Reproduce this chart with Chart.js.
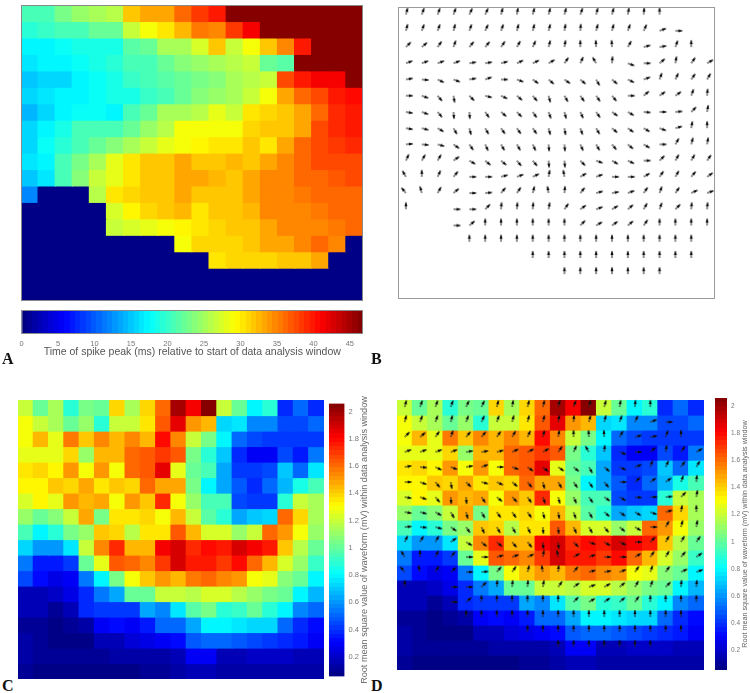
<!DOCTYPE html>
<html><head><meta charset="utf-8">
<style>
html,body{margin:0;padding:0;background:#fff;width:750px;height:693px;overflow:hidden}
canvas{position:absolute;display:block;filter:blur(0.45px)}
.tag{position:absolute;font:bold 16px "Liberation Serif",serif;color:#111;line-height:16px}
.vt{position:absolute;font-family:"Liberation Sans",sans-serif;color:#666;white-space:nowrap;transform-origin:center center;filter:blur(0.3px)}
</style>
<script src="https://cdn.jsdelivr.net/npm/chart.js@4/dist/chart.umd.min.js"></script>
</head><body>
<canvas id="a" style="left:21px;top:5px" width="342" height="296"></canvas>
<canvas id="aBar" style="left:10px;top:308px" width="365" height="50"></canvas>
<canvas id="b" style="left:393px;top:2px" width="327" height="302"></canvas>
<canvas id="c" style="left:18px;top:400px" width="306" height="279"></canvas>
<canvas id="cBar" style="left:329px;top:395px" width="32" height="290"></canvas>
<canvas id="d" style="left:392px;top:395px" width="317" height="280"></canvas>
<canvas id="dBar" style="left:715px;top:390px" width="28" height="290"></canvas>
<div class="tag" style="left:2px;top:351px">A</div>
<div class="tag" style="left:371px;top:351px">B</div>
<div class="tag" style="left:2px;top:678px">C</div>
<div class="tag" style="left:371px;top:678px">D</div>
<div class="vt" style="left:214px;top:534px;width:300px;text-align:center;font-size:9.1px;line-height:12px;transform:rotate(-90deg)">Root mean square value of waveform (mV) within data analysis window</div>
<div class="vt" style="left:595px;top:529px;width:300px;text-align:center;font-size:7.2px;line-height:10px;transform:rotate(-90deg)">Root mean square value of waveform (mV) within data analysis window</div>
<script>
const columnLabels=['1','2','3','4','5','6','7','8','9','10','11','12','13','14','15','16','17','18','19','20'];
const spikeRange=[0,46.8];
const spikeTicks=[0,5,10,15,20,25,30,35,40,45];
const rmsRange=[0.056,2.06];
const rmsTicks=[0.2,0.4,0.6,0.8,1,1.2,1.4,1.6,1.8,2];
const spikeTitle='Time of spike peak (ms) relative to start of data analysis window';

const spikeTimes=[
[21,21,23,24.5,25.5,26,31.5,33.5,33.5,36,38.5,39.5,47,47,47,47,47,47,47,47],
[19.5,20,20.5,21,22,22.5,27,29,30,32.5,35.5,35,38.5,41,47,47,47,47,47,47],
[17,17.5,18,18.5,19,19,21.5,22,25.5,25.5,27.5,32,27,29,32,34.5,40,47,47,47],
[16.5,17,17.5,18,18.5,19.5,20.5,21,22,24,24.5,25.5,26,26.5,22.5,21.5,47,47,47,47],
[15,15.5,16,17.5,18,19,20,20.5,21.5,22,23,24,25.5,26,27,38,39.5,41,41,47],
[16,16.5,17,17.5,18,18.5,19,20,21,22.5,24,24.5,25.5,27,29,33,36,38,39.5,40.5],
[14.5,15.5,17.5,18,18,17.5,20.5,22,25,25.5,26,28,26.5,30.5,31,31.5,33,36.5,39,40],
[15.5,17.5,18.5,20.5,20.5,21,22.5,24.5,26,29,29,29,29,31,31.5,32,33.5,37.5,39,39.5],
[15.5,18,19.5,21,22.5,24,25,27,28.5,29,29.5,30.5,30.5,31.5,30,33,36,37.5,38.5,39],
[16.5,17.5,20.5,23,25.5,28.5,30,31.5,32,33,32,31.5,32.5,32,33,35,36.5,37.5,37.5,38],
[15,16.5,21,23.5,26.5,28.5,30.5,31.5,32,33,33,32.5,32,33,34.5,35,36,36.5,37,37.5],
[12,0,0,0,26,30,31,31.5,32,33,31.5,32,32,33,35,35,35.5,36,36.5,36.5],
[0,0,0,0,0,27.5,29.5,31,31.5,32.5,30,32,32,32.5,35,35,35,35.5,36,36.5],
[0,0,0,0,0,27,27.5,28,29,29.5,30,31,32,32,33,35,35,35,35.5,36],
[0,0,0,0,0,0,0,0,0,29,31,31,31,32,33,33.5,34.5,36,34.5,0],
[0,0,0,0,0,0,0,0,0,0,0,30,31,31,31,31.5,32,33,0,0],
[0,0,0,0,0,0,0,0,0,0,0,0,0,0,0,0,0,0,0,0],
[0,0,0,0,0,0,0,0,0,0,0,0,0,0,0,0,0,0,0,0]
];
const rmsValues=[
[1.2,1.0,1.15,.9,1.05,1.0,1.4,1.15,1.4,1.6,1.98,1.82,2.05,1.2,1.0,.8,.9,.38,.5,.4],
[1.28,1.2,1.15,1.0,1.1,.9,1.2,1.2,1.35,1.65,1.85,1.5,1.45,.72,.75,.58,.58,.45,.45,.52],
[1.3,1.45,1.25,1.58,1.42,1.55,1.45,1.55,1.45,1.8,1.55,1.2,1.05,.78,.5,.45,.42,.42,.42,.42],
[1.25,1.25,1.25,1.38,1.1,1.45,1.45,1.6,1.65,1.7,1.65,1.05,.9,.7,.38,.3,.3,.45,.35,.55],
[1.35,1.38,1.32,1.5,1.3,1.52,1.3,1.6,1.65,1.85,1.25,1.0,.95,.62,.42,.42,.45,.7,.5,.75],
[1.32,1.32,1.42,1.38,1.48,1.35,1.42,1.4,1.62,1.48,1.48,1.05,.8,.65,.48,.4,.5,.68,.85,.95],
[1.22,1.32,1.25,1.5,1.45,1.48,1.3,1.5,1.42,1.72,1.3,1.1,.95,.95,.45,.42,.42,.9,1.2,1.15],
[1.12,1.0,1.08,1.2,1.48,1.05,1.35,1.35,1.38,1.3,1.45,1.2,.98,.88,.62,.7,.72,1.62,1.38,1.15],
[.95,.78,.9,1.05,1.12,1.42,1.38,1.18,1.35,1.35,1.65,1.45,1.22,1.22,1.1,1.2,1.6,1.5,1.3,1.1],
[.72,.6,.6,.75,1.2,1.55,1.72,1.45,1.45,1.82,1.88,1.72,1.78,1.75,1.9,1.82,1.75,1.42,1.18,1.02],
[.55,.35,.35,.42,1.0,1.25,1.65,1.62,1.55,1.7,1.9,1.75,1.75,1.7,1.8,1.6,1.45,1.22,1.1,.92],
[.45,.32,.25,.28,.55,.78,1.05,1.3,1.42,1.52,1.45,1.58,1.6,1.55,1.52,1.3,1.25,1.08,1.0,.78],
[.15,.15,.2,.25,.4,.55,.65,1.0,1.02,1.2,1.2,1.18,1.22,1.22,1.18,1.1,1.05,1.0,.8,.68],
[.15,.15,.1,.18,.38,.42,.42,.42,.65,.58,.75,.98,1.05,.9,.92,1.0,.9,.8,.58,.5],
[.1,.1,.08,.1,.12,.3,.32,.3,.35,.5,.5,.65,.78,.78,.75,.72,.72,.5,.38,.32],
[.12,.1,.08,.08,.08,.15,.18,.22,.27,.3,.32,.48,.5,.5,.48,.45,.42,.38,.35,.28],
[.12,.1,.1,.1,.1,.1,.12,.12,.12,.14,.15,.3,.3,.18,.18,.2,.2,.2,.18,.16],
[.1,.08,.08,.08,.08,.08,.08,.08,.09,.1,.14,.16,.16,.14,.14,.14,.14,.14,.12,.12]
];
const _=null;
const arrowAngles=[
[15,20,20,20,25,25,15,10,15,15,15,20,15,15,10,5,0,_,_,_],
[15,20,20,15,20,25,20,15,15,15,10,5,15,15,20,25,70,90,_,_],
[45,50,35,20,40,40,35,30,25,15,10,0,-3,-3,30,75,80,20,0,_],
[70,70,70,70,80,80,75,65,65,60,35,25,-30,5,110,90,50,10,35,60],
[80,95,115,110,80,70,90,110,125,130,125,130,150,130,115,70,20,25,35,30],
[90,110,140,170,135,105,115,130,140,165,150,145,145,140,90,50,55,55,20,5],
[100,110,140,175,175,145,130,135,145,160,165,155,145,125,120,95,90,85,45,10],
[100,105,120,150,165,150,145,145,145,165,170,160,150,130,125,120,110,75,10,0],
[85,95,105,125,145,155,150,150,155,175,175,155,150,140,130,120,90,30,15,10],
[25,30,30,55,120,130,130,140,140,175,175,135,110,120,115,90,45,30,30,35],
[-30,0,25,40,90,90,75,70,65,10,-10,60,70,90,90,60,35,30,40,55],
[-40,-15,30,50,90,85,40,35,15,-10,5,40,75,80,70,35,20,35,65,70],
[0,_,_,90,90,45,5,5,5,10,35,55,70,60,50,30,20,45,5,5],
[_,_,_,90,50,0,0,0,0,0,0,45,60,55,50,35,0,0,0,0],
[_,_,_,_,0,0,0,0,0,0,0,0,0,0,0,0,0,0,0,_],
[_,_,_,_,_,_,_,_,0,0,0,0,0,0,0,0,0,0,0,_],
[_,_,_,_,_,_,_,_,_,_,0,0,0,0,0,0,0,_,_,_],
[_,_,_,_,_,_,_,_,_,_,_,_,_,_,_,_,_,_,_,_]
];

const FONT='"Liberation Sans",sans-serif';
const LEVELS=64;
function jet(t){
  const f=k=>Math.round(255*Math.max(0,Math.min(1,1.5-Math.abs(4*t-k))));
  return `rgb(${f(3)},${f(2)},${f(1)})`;
}
function colorOf(v,range){
  const t=Math.max(0,Math.min(1,(v-range[0])/(range[1]-range[0])));
  return jet((Math.min(LEVELS-1,Math.floor(t*LEVELS))+0.5)/LEVELS);
}
function heatDatasets(rows,range){
  return rows.map((row,r)=>({
    type:'bar',
    data:row.map(()=>[r,r+1]),
    backgroundColor:row.map(v=>colorOf(v,range)),
    borderWidth:0,
    inflateAmount:0.6,
    categoryPercentage:1,
    barPercentage:1,
    grouped:false,
    order:r+1
  }));
}
const arrowImg=document.createElement('canvas');
arrowImg.width=24;arrowImg.height=24;
(function(){
  const g=arrowImg.getContext('2d');
  g.strokeStyle='#222';g.lineWidth=1.0;
  g.beginPath();g.moveTo(12,12);g.lineTo(12,5.5);g.stroke();
  g.fillStyle='#0c0c0c';
  g.beginPath();g.moveTo(12,4.4);g.lineTo(13.5,9);g.lineTo(10.5,9);g.closePath();g.fill();
})();
function quiverDataset(){
  const pts=[],rot=[];
  arrowAngles.forEach((row,r)=>row.forEach((ang,c)=>{
    if(ang===null)return;
    pts.push({x:columnLabels[c],y:r+0.47});
    rot.push(ang);
  }));
  return {type:'line',showLine:false,data:pts,pointStyle:arrowImg,pointRotation:rot,
    pointRadius:3,clip:false,order:-1};
}
const frame={id:'frame',afterDraw(ch,a,o){
  if(!o.color)return;
  const {left,top,width,height}=ch.chartArea,g=ch.ctx;
  g.save();g.strokeStyle=o.color;g.lineWidth=1;
  g.strokeRect(left+.5,top+.5,width-1,height-1);g.restore();
}};
function gridChart(id,datasets,border){
  return new Chart(document.getElementById(id),{
    type:'bar',
    data:{labels:columnLabels,datasets},
    plugins:[frame],
    options:{
      responsive:false,animation:false,
      layout:{padding:0},
      plugins:{legend:{display:false},tooltip:{enabled:false},frame:{color:border}},
      scales:{
        x:{type:'category',offset:true,display:false},
        y:{type:'linear',min:0,max:arrowAngles.length,reverse:true,display:false}
      }
    }
  });
}
function jetGradient(ctx,horizontal){
  const a=ctx.chart.chartArea;
  if(!a)return '#000';
  const g=horizontal?ctx.chart.ctx.createLinearGradient(a.left,0,a.right,0)
                    :ctx.chart.ctx.createLinearGradient(0,a.bottom,0,a.top);
  for(let i=0;i<LEVELS;i++){
    const c=jet((i+.5)/LEVELS);
    g.addColorStop(i/LEVELS,c);g.addColorStop((i+1)/LEVELS,c);
  }
  return g;
}
gridChart('a',heatDatasets(spikeTimes,spikeRange),'#8a8a8a');
gridChart('b',[quiverDataset()],'#9a9a9a');
gridChart('c',heatDatasets(rmsValues,rmsRange),null);
gridChart('d',[quiverDataset(),...heatDatasets(rmsValues,rmsRange)],null);

new Chart(document.getElementById('aBar'),{
  type:'bar',
  data:{labels:['scale'],datasets:[{data:[spikeRange],backgroundColor:c=>jetGradient(c,true),
    categoryPercentage:1,barPercentage:1,borderWidth:0}]},
  plugins:[frame],
  options:{
    indexAxis:'y',responsive:false,animation:false,
    layout:{padding:{left:11.5,right:12,top:2,bottom:0}},
    plugins:{legend:{display:false},tooltip:{enabled:false},frame:{color:'#8a8a8a'}},
    scales:{
      y:{display:false},
      x:{type:'linear',min:spikeRange[0],max:spikeRange[1],
        afterBuildTicks:ax=>{ax.ticks=spikeTicks.map(v=>({value:v}));},
        grid:{display:false,drawTicks:false},border:{display:false},
        ticks:{color:'#777',font:{family:FONT,size:7.5},padding:5,maxRotation:0,autoSkip:false,callback:v=>String(v)},
        title:{display:true,text:spikeTitle,color:'#555',font:{family:FONT,size:10.5},padding:{top:2,bottom:0}}
      }
    }
  }
});
function vBar(id,fontSize,padTop,padBottom,barW){
  return new Chart(document.getElementById(id),{
    type:'bar',
    data:{labels:['scale'],datasets:[{data:[rmsRange],backgroundColor:c=>jetGradient(c,false),
      categoryPercentage:1,barPercentage:1,borderWidth:0}]},
    options:{
      responsive:false,animation:false,
      layout:{padding:{top:padTop,bottom:padBottom,left:0,right:0}},
      plugins:{legend:{display:false},tooltip:{enabled:false}},
      scales:{
        x:{display:false},
        y:{type:'linear',position:'right',min:rmsRange[0],max:rmsRange[1],
          afterBuildTicks:ax=>{ax.ticks=rmsTicks.map(v=>({value:v}));},
          afterFit:ax=>{ax.width=ax.chart.width-barW;},
          grid:{display:false,drawTicks:false},border:{display:false},
          ticks:{color:'#777',font:{family:FONT,size:fontSize},padding:4,autoSkip:false,callback:v=>String(v)}
        }
      }
    }
  });
}
vBar('cBar',7.5,5.5,6.5,15.5);
vBar('dBar',6.5,5,10,12);
</script>
</body></html>
